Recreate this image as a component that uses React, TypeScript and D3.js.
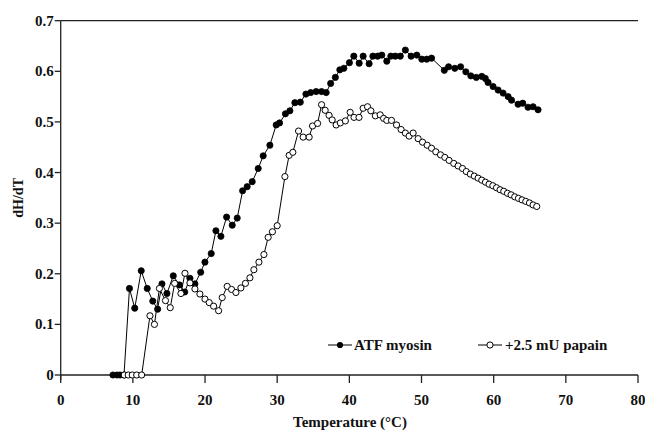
import React from "react";
import * as d3 from "d3";

const xTicks = [0, 10, 20, 30, 40, 50, 60, 70, 80];
const yTicks = [0, 0.1, 0.2, 0.3, 0.4, 0.5, 0.6, 0.7];
const yTickLabels = ["0", "0.1", "0.2", "0.3", "0.4", "0.5", "0.6", "0.7"];

const seriesNames = ["ATF myosin", "+2.5 mU papain"];

const atfT = [7.24, 7.8, 8.21, 8.77, 9.53, 10.26, 11.16, 11.99, 12.76, 13.43, 14.03, 14.72, 15.6, 16.45, 17.19, 17.91, 18.6, 19.4, 19.99, 20.86, 21.51, 22.2, 22.99, 23.77, 24.46, 25.21, 25.84, 26.54, 27.37, 28.06, 28.99, 29.86, 30.33, 31.14, 31.76, 32.45, 33.2, 33.98, 34.64, 35.4, 36.15, 36.79, 37.41, 38.06, 38.68, 39.24, 40.01, 40.62, 41.36, 41.91, 42.74, 43.26, 43.92, 44.5, 45.19, 45.75, 46.37, 47.06, 47.76, 48.56, 49.35, 50.04, 50.73, 51.39, 53.16, 53.75, 54.61, 55.42, 56.14, 56.83, 57.59, 58.35, 58.84, 59.22, 59.92, 60.61, 61.3, 62.0, 62.47, 63.38, 64.03, 64.76, 65.46, 66.15];
const atfV = [0, 0, 0, 0, 0.171, 0.132, 0.206, 0.171, 0.146, 0.13, 0.18, 0.161, 0.196, 0.178, 0.164, 0.191, 0.18, 0.203, 0.223, 0.24, 0.285, 0.274, 0.312, 0.296, 0.31, 0.364, 0.372, 0.382, 0.408, 0.433, 0.454, 0.494, 0.498, 0.516, 0.522, 0.538, 0.539, 0.555, 0.558, 0.56, 0.56, 0.558, 0.576, 0.588, 0.603, 0.606, 0.617, 0.63, 0.616, 0.63, 0.615, 0.63, 0.63, 0.632, 0.62, 0.63, 0.63, 0.63, 0.642, 0.63, 0.632, 0.624, 0.624, 0.626, 0.602, 0.609, 0.606, 0.609, 0.599, 0.591, 0.588, 0.59, 0.586, 0.578, 0.57, 0.563, 0.557, 0.55, 0.543, 0.535, 0.537, 0.529, 0.53, 0.524];

const papT = [8.81, 9.36, 9.92, 10.53, 11.22, 12.37, 12.99, 13.68, 14.52, 15.18, 15.79, 16.66, 17.22, 17.91, 18.6, 19.29, 19.99, 20.58, 21.19, 21.88, 22.38, 23.07, 23.68, 24.28, 24.97, 25.6, 26.22, 26.77, 27.47, 28.16, 28.75, 29.34, 30.0, 31.07, 31.66, 32.17, 32.96, 33.6, 34.43, 34.9, 35.6, 36.15, 36.65, 37.19, 37.62, 38.17, 38.75, 39.45, 40.11, 40.65, 41.34, 41.91, 42.52, 42.98, 43.6, 44.27, 44.75, 45.19, 45.84, 46.54, 47.17, 47.76, 48.28, 48.84, 49.53, 50.14, 50.78, 51.39, 51.98, 52.63, 53.23, 53.82, 54.47, 55.07, 55.68, 56.2, 56.76, 57.31, 57.84, 58.35, 58.86, 59.36, 59.88, 60.39, 60.89, 61.4, 61.91, 62.41, 62.92, 63.43, 63.93, 64.45, 64.96, 65.46, 65.97];
const papV = [0, 0, 0, 0, 0, 0.117, 0.1, 0.171, 0.147, 0.133, 0.181, 0.161, 0.201, 0.182, 0.17, 0.16, 0.15, 0.143, 0.136, 0.127, 0.153, 0.175, 0.169, 0.163, 0.172, 0.181, 0.192, 0.208, 0.223, 0.238, 0.272, 0.283, 0.295, 0.392, 0.434, 0.44, 0.482, 0.47, 0.47, 0.492, 0.497, 0.534, 0.523, 0.513, 0.504, 0.494, 0.498, 0.502, 0.519, 0.509, 0.509, 0.527, 0.53, 0.522, 0.512, 0.514, 0.507, 0.503, 0.503, 0.494, 0.485, 0.478, 0.472, 0.478, 0.467, 0.46, 0.454, 0.448, 0.441, 0.435, 0.43, 0.424, 0.418, 0.413, 0.408, 0.402, 0.397, 0.393, 0.389, 0.385, 0.381, 0.377, 0.374, 0.37, 0.366, 0.363, 0.359, 0.356, 0.352, 0.349, 0.346, 0.343, 0.34, 0.336, 0.333];

const W = 645;
const H = 432;
const left = 60.7;
const right = 638;
const top = 20.7;
const bottom = 375;
const FONT = "'Liberation Serif', 'Times New Roman', serif";

export default function App() {
  const x = d3.scaleLinear().domain([0, 80]).range([left, right]);
  const y = d3.scaleLinear().domain([0, 0.7]).range([bottom, top]);
  const atf = atfT.map((t, i) => [t, atfV[i]] as [number, number]);
  const pap = papT.map((t, i) => [t, papV[i]] as [number, number]);
  const line = d3
    .line<[number, number]>()
    .x((d) => x(d[0]))
    .y((d) => y(d[1]));
  const r = 3.1;
  const axisColor = "#222";

  return (
    <svg
      width={W}
      height={H}
      style={{ position: "absolute", left: 0, top: 0, background: "#fff" }}
      fontFamily={FONT}
      fontWeight="bold"
    >
      {/* top border */}
      <line x1={left} x2={right} y1={top} y2={top} stroke={axisColor} strokeWidth={1.3} />
      {/* axes */}
      <line x1={left} x2={right} y1={bottom} y2={bottom} stroke={axisColor} strokeWidth={1.3} />
      <line x1={left} x2={left} y1={top} y2={bottom + 5} stroke={axisColor} strokeWidth={1.3} />
      {xTicks.map((t) => (
        <g key={"xt" + t}>
          <line x1={x(t)} x2={x(t)} y1={bottom} y2={bottom + 8} stroke={axisColor} strokeWidth={1.3} />
          <text x={x(t)} y={405} fontSize={15} textAnchor="middle" fill="#111">
            {t}
          </text>
        </g>
      ))}
      {yTicks.map((t, i) => (
        <g key={"yt" + i}>
          <line x1={left - 6} x2={left} y1={y(t)} y2={y(t)} stroke={axisColor} strokeWidth={1.3} />
          <text x={left - 7} y={y(t) + 5} fontSize={15} textAnchor="end" fill="#111">
            {yTickLabels[i]}
          </text>
        </g>
      ))}
      <text x={350} y={427} fontSize={15} textAnchor="middle" fill="#111">
        Temperature (°C)
      </text>
      <text
        transform={`translate(23,${(top + bottom) / 2}) rotate(-90)`}
        fontSize={14}
        textAnchor="middle"
        fill="#111"
      >
        dH/dT
      </text>

      {/* ATF myosin */}
      <path d={line(atf) || ""} fill="none" stroke="#000" strokeWidth={1} />
      {atf.map((d, i) => (
        <circle key={"a" + i} cx={x(d[0])} cy={y(d[1])} r={r} fill="#000" stroke="#000" strokeWidth={0.8} />
      ))}
      {/* papain */}
      <path d={line(pap) || ""} fill="none" stroke="#000" strokeWidth={1} />
      {pap.map((d, i) => (
        <circle key={"p" + i} cx={x(d[0])} cy={y(d[1])} r={r} fill="#fff" stroke="#000" strokeWidth={1} />
      ))}

      {/* legend */}
      <g>
        <line x1={328} x2={352} y1={345} y2={345} stroke="#000" strokeWidth={1} />
        <circle cx={340} cy={345} r={r} fill="#000" />
        <text x={354} y={350} fontSize={15} fill="#111">
          {seriesNames[0]}
        </text>
        <line x1={478} x2={502} y1={345} y2={345} stroke="#000" strokeWidth={1} />
        <circle cx={490} cy={345} r={r} fill="#fff" stroke="#000" strokeWidth={1} />
        <text x={505} y={350} fontSize={15} fill="#111">
          {seriesNames[1]}
        </text>
      </g>
    </svg>
  );
}
